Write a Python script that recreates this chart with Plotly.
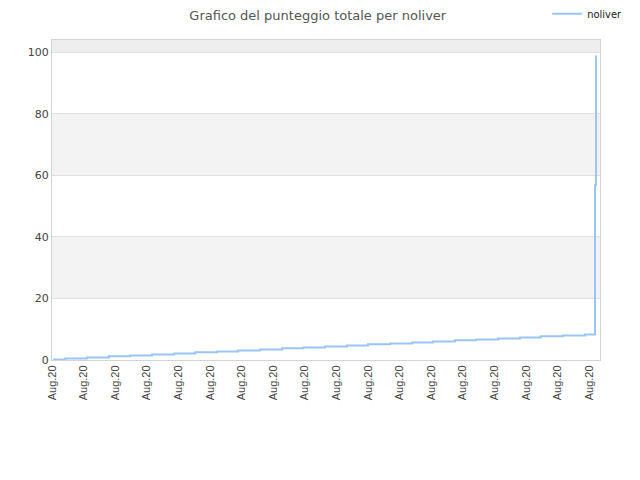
import plotly.graph_objects as go

# Orari dei punti (tutti del 20 agosto) e punteggio totale accumulato
orari = [
    "2020-08-20 00:02", "2020-08-20 00:25", "2020-08-20 01:06", "2020-08-20 01:48",
    "2020-08-20 02:28", "2020-08-20 03:10", "2020-08-20 03:52", "2020-08-20 04:32",
    "2020-08-20 05:13", "2020-08-20 05:53", "2020-08-20 06:35", "2020-08-20 07:17",
    "2020-08-20 07:57", "2020-08-20 08:38", "2020-08-20 09:20", "2020-08-20 10:00",
    "2020-08-20 10:42", "2020-08-20 11:24", "2020-08-20 12:03", "2020-08-20 12:45",
    "2020-08-20 13:25", "2020-08-20 14:07", "2020-08-20 14:49", "2020-08-20 15:28",
    "2020-08-20 16:10", "2020-08-20 16:52", "2020-08-20 17:11", "2020-08-20 17:13",
]
punteggio = [
    0.2, 0.5, 0.85, 1.2, 1.5, 1.8, 2.15, 2.5, 2.8, 3.1, 3.45, 3.8, 4.1, 4.4,
    4.75, 5.1, 5.4, 5.7, 6.05, 6.4, 6.7, 7.0, 7.35, 7.7, 8.0, 8.3, 56.8, 99.0,
]

x_inizio = "2020-08-20 00:00"
x_fine = "2020-08-20 17:20:30"
y_max = 104
fasce_grigie = [(20, 40), (60, 80)]

fig = go.Figure()

fig.add_trace(go.Scatter(
    x=orari, y=punteggio, name="noliver", mode="lines",
    line=dict(color="#99c5f2", width=2, shape="hv"),
))

# bande alternate dello sfondo
for y0, y1 in fasce_grigie:
    fig.add_shape(type="rect", xref="paper", yref="y", x0=0, x1=1, y0=y0, y1=y1,
                  fillcolor="#f3f3f3", line_width=0, layer="below")
fig.add_shape(type="rect", xref="paper", yref="y", x0=0, x1=1, y0=100, y1=y_max,
              fillcolor="#eeeeee", line_width=0, layer="below")

# la pagina html aggiunge 8px di margine al body
fig.update_layout(
    width=640, height=480,
    margin=dict(l=44, r=48, t=32, b=128, autoexpand=False),
    paper_bgcolor="white", plot_bgcolor="white",
    title=dict(text="Grafico del punteggio totale per noliver", x=0.484, xanchor="center",
               y=0.984, yanchor="middle", yref="container",
               font=dict(family="DejaVu Sans", size=13, color="#555555")),
    legend=dict(x=0.8425, xanchor="left", y=0.988, yanchor="middle",
                xref="container", yref="container",
                font=dict(family="DejaVu Sans Condensed, DejaVu Sans", size=11, color="#222222"),
                bgcolor="rgba(0,0,0,0)", itemwidth=30),
    showlegend=True,
    font=dict(family="Liberation Sans, Arial", size=11, color="#444444"),
)

fig.update_xaxes(
    type="date", range=[x_inizio, x_fine],
    tick0=x_inizio, dtick=3600000, tickformat="%b.%d",
    tickangle=-90, showgrid=False, zeroline=False,
    showline=True, linecolor="#d4d4d4", linewidth=1, mirror=True,
    ticks="", tickfont=dict(family="Liberation Sans, Arial", size=11, color="#444444"),
)
fig.update_yaxes(
    range=[0, y_max], tickvals=[0, 20, 40, 60, 80, 100],
    showgrid=True, gridcolor="#e0e0e0", gridwidth=1, zeroline=False,
    showline=True, linecolor="#d4d4d4", linewidth=1, mirror=True,
    ticks="", tickfont=dict(family="DejaVu Sans", size=11, color="#444444"),
)

fig.write_html("out.html")
